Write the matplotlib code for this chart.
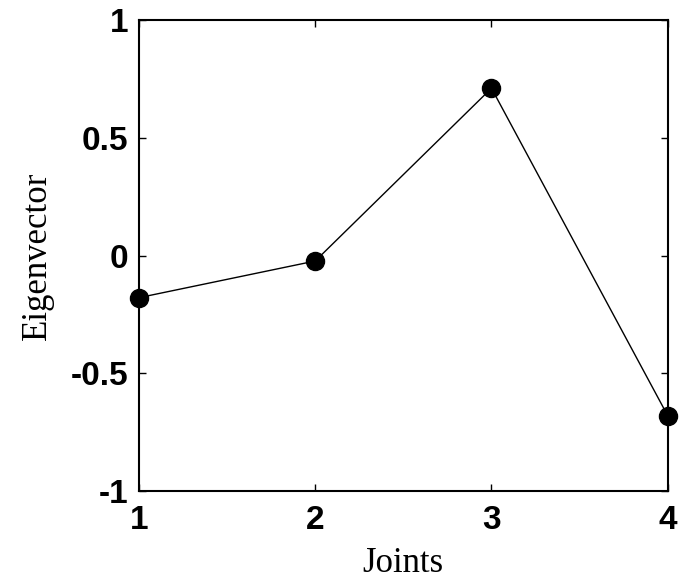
import matplotlib.pyplot as plt

joints = [1, 2, 3, 4]
eigenvector = [-0.179, -0.023, 0.712, -0.681]
x_ticks = [1, 2, 3, 4]
y_ticks = [-1, -0.5, 0, 0.5, 1]
y_tick_labels = ["-1", "-0.5", "0", "0.5", "1"]

fig = plt.figure(figsize=(6.81, 5.84), dpi=100)
ax = fig.add_axes([0.2041, 0.1598, 0.7764, 0.8051])

ax.plot(joints, eigenvector, color="black", linewidth=1.0,
        marker="o", markersize=13, markerfacecolor="black",
        markeredgecolor="black", clip_on=False, zorder=3)

ax.set_xlim(1, 4)
ax.set_ylim(-1, 1)
ax.set_xticks(x_ticks)
ax.set_yticks(y_ticks)
ax.set_yticklabels(y_tick_labels)

for spine in ax.spines.values():
    spine.set_linewidth(1.5)

ax.tick_params(direction="in", length=5, width=1, top=True, right=True,
               labelsize=24)
ax.tick_params(axis="x", pad=10)
ax.tick_params(axis="y", pad=8)
for lbl in ax.get_xticklabels() + ax.get_yticklabels():
    lbl.set_family("Liberation Sans")
    lbl.set_fontweight("bold")

ax.set_xlabel("Joints", family="Liberation Serif", fontsize=25, labelpad=8)
ax.set_ylabel("Eigenvector", family="Liberation Serif", fontsize=25, labelpad=12)

fig.savefig("out.png", dpi=100)
